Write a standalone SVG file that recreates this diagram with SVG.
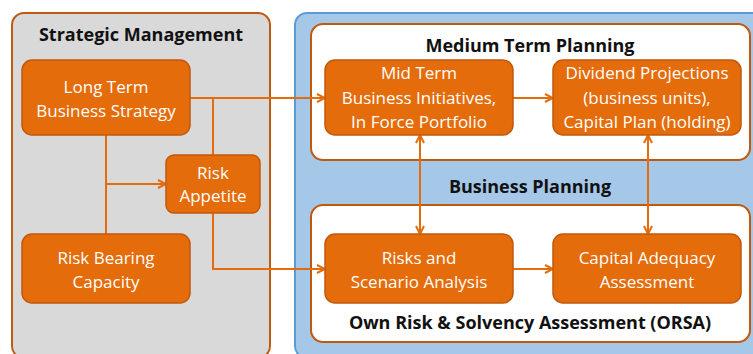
<svg xmlns="http://www.w3.org/2000/svg" width="753" height="354" viewBox="0 0 753 354">
<style>
.node rect{fill:#e46c0a;stroke:#c0580e;stroke-width:1.5}
.node text{fill:#fff;font-family:"Open Sans","Liberation Sans",sans-serif;font-size:17px;text-anchor:middle}
.title{fill:#111;font-family:"Open Sans","Liberation Sans",sans-serif;font-size:18px;font-weight:bold;text-anchor:middle}
.con{fill:none;stroke:#e46c0a;stroke-width:2}
</style>
<defs>
<marker id="ah" viewBox="0 0 10 10" refX="9" refY="5" markerWidth="10" markerHeight="10" markerUnits="userSpaceOnUse" orient="auto-start-reverse">
<path d="M1,1 L9,5 L1,9" fill="none" stroke="#e46c0a" stroke-width="2"/>
</marker>
</defs>
<rect width="753" height="354" fill="#fff"/>
<g id="strategic-management">
<rect x="12" y="13" width="258" height="345" rx="12" fill="#d9d9d9" stroke="#c0580e" stroke-width="2"/>
<text class="title" x="141" y="41">Strategic Management</text>
</g>
<g id="business-planning">
<rect x="295" y="13" width="470" height="345" rx="12" fill="#a6c8e8" stroke="#5b9bd5" stroke-width="2"/>
<text class="title" x="530" y="193">Business Planning</text>
</g>
<g id="medium-term-planning">
<rect x="311" y="24" width="439" height="136" rx="12" fill="#fff" stroke="#c0580e" stroke-width="2"/>
<text class="title" x="530" y="52">Medium Term Planning</text>
</g>
<g id="orsa">
<rect x="311" y="205" width="439" height="137" rx="12" fill="#fff" stroke="#c0580e" stroke-width="2"/>
<text class="title" x="530" y="329">Own Risk &amp; Solvency Assessment (ORSA)</text>
</g>
<g id="connectors">
<path class="con" d="M190,98 H325" marker-end="url(#ah)"/>
<path class="con" d="M213,98 V155"/>
<path class="con" d="M106,135 V234"/>
<path class="con" d="M106,184 H166" marker-end="url(#ah)"/>
<path class="con" d="M213,213 V269 H325" marker-end="url(#ah)"/>
<path class="con" d="M513,98 H553" marker-end="url(#ah)"/>
<path class="con" d="M513,269 H553" marker-end="url(#ah)"/>
<path class="con" d="M420,135 V234" marker-start="url(#ah)" marker-end="url(#ah)"/>
<path class="con" d="M648,135 V234" marker-start="url(#ah)" marker-end="url(#ah)"/>
</g>
<g id="long-term" class="node">
<rect x="22" y="60" width="168" height="75" rx="10"/>
<text x="106" y="93">Long Term</text>
<text x="106" y="117">Business Strategy</text>
</g>
<g id="risk-appetite" class="node">
<rect x="166" y="155" width="94" height="58" rx="8"/>
<text x="213" y="179">Risk</text>
<text x="213" y="202">Appetite</text>
</g>
<g id="risk-bearing" class="node">
<rect x="22" y="234" width="168" height="69" rx="10"/>
<text x="106" y="264">Risk Bearing</text>
<text x="106" y="288">Capacity</text>
</g>
<g id="mid-term" class="node">
<rect x="325" y="60" width="188" height="75" rx="10"/>
<text x="419" y="79">Mid Term</text>
<text x="419" y="104">Business Initiatives,</text>
<text x="419" y="128">In Force Portfolio</text>
</g>
<g id="dividend" class="node">
<rect x="553" y="60" width="188" height="75" rx="10"/>
<text x="647" y="79">Dividend Projections</text>
<text x="647" y="104">(business units),</text>
<text x="647" y="128">Capital Plan (holding)</text>
</g>
<g id="risks-scenario" class="node">
<rect x="325" y="234" width="188" height="69" rx="10"/>
<text x="419" y="264">Risks and</text>
<text x="419" y="288">Scenario Analysis</text>
</g>
<g id="capital-adequacy" class="node">
<rect x="553" y="234" width="188" height="69" rx="10"/>
<text x="647" y="264">Capital Adequacy</text>
<text x="647" y="288">Assessment</text>
</g>
</svg>
